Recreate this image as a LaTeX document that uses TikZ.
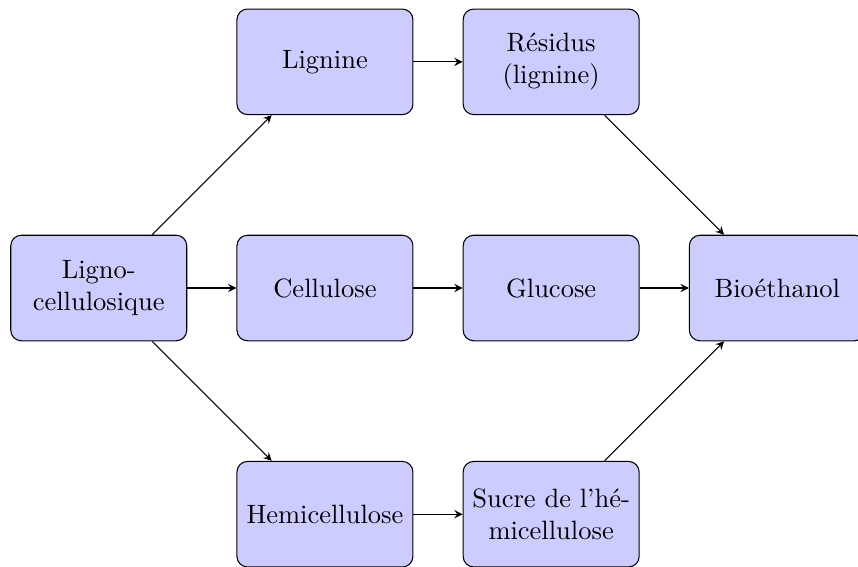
\documentclass[tikz,border=0pt]{standalone}
\usepackage{tikz}

\begin{document}
\begin{tikzpicture}[>=stealth,
    etape/.style={draw, rounded corners, fill=blue!20, text width=2.1cm,
      align=center, minimum height=1.4cm}]
    \useasboundingbox (-1.31, -3.69) rectangle (10.07, 3.82);

    \node[etape] (ligno) at (0, 0) {Ligno-\\cellulosique};
    \node[etape] (lignine) at (3, 3) {Lignine};
    \node[etape] (cellulose) at (3, 0) {Cellulose};
    \node[etape] (hemi) at (3, -3) {Hemicellulose};
    \node[etape] (residus) at (6, 3) {Résidus\\(lignine)};
    \node[etape] (glucose) at (6, 0) {Glucose};
    \node[etape] (sucre) at (6, -3) {Sucre de l'hé-\\micellulose};
    \node[etape] (ethanol) at (9, 0) {Bioéthanol};

    \draw[->] (ligno) -- (lignine);
    \draw[->] (ligno) -- (cellulose);
    \draw[->] (ligno) -- (hemi);
    \draw[->] (lignine) -- (residus);
    \draw[->] (cellulose) -- (glucose);
    \draw[->] (hemi) -- (sucre);
    \draw[->] (residus) -- (ethanol);
    \draw[->] (glucose) -- (ethanol);
    \draw[->] (sucre) -- (ethanol);
  \end{tikzpicture}
\end{document}
